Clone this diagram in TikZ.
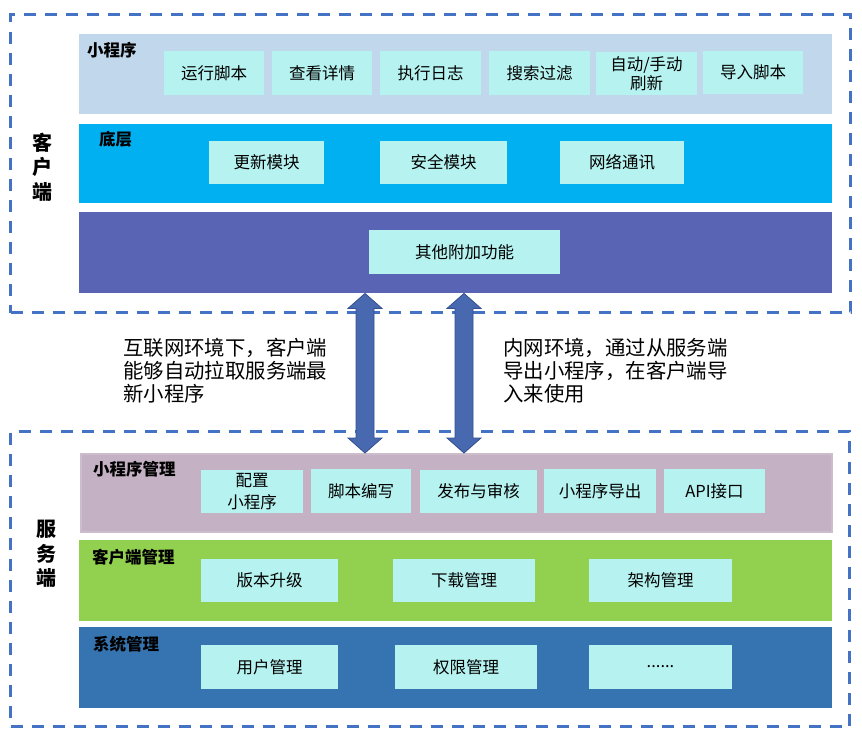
\documentclass[tikz,border=0pt]{standalone}
\usepackage{fontspec}
\setmainfont{Noto Sans CJK SC}
\usetikzlibrary{calc}
\definecolor{dashc}{HTML}{4472C4}
\definecolor{l1c}{HTML}{C0D7EC}
\definecolor{l2c}{HTML}{00B0F0}
\definecolor{l3c}{HTML}{5A64B4}
\definecolor{lac}{HTML}{C4B2C4}
\definecolor{lad}{HTML}{CCBDCC}
\definecolor{lbc}{HTML}{92D050}
\definecolor{lcc}{HTML}{3574B0}
\definecolor{itemc}{HTML}{B6F3F0}
\definecolor{arrc}{HTML}{4868B0}
\definecolor{arrd}{HTML}{34508E}
\begin{document}
\begin{tikzpicture}[x=1pt,y=-1pt,
 layer/.style={inner sep=0, minimum width=753pt, anchor=north west},
 item/.style={fill=itemc, inner sep=0, align=center, font=\fontsize{16.5}{19}\selectfont},
 lbl/.style={anchor=west, inner sep=0, font=\bfseries\fontsize{16.5}{19}\selectfont},
 side/.style={inner sep=0, align=center, font=\bfseries\fontsize{20}{24.5}\selectfont},
 note/.style={anchor=west, inner sep=0, align=left, font=\fontsize{20.4}{23}\selectfont},
 group/.style={draw=dashc, line width=3pt, dash pattern=on 12pt off 9pt, inner sep=0, anchor=north west},
 blockarrow/.style={fill=arrc, draw=arrd, line width=0.8pt, line join=miter}]
\useasboundingbox (0,0) rectangle (862,736);

% dashed groups
\node[group, minimum width=840pt, minimum height=298pt] (client) at (9,13) {};
\node[group, minimum width=839pt, minimum height=295pt] (server) at (9,430) {};

% client layers
\node[layer, fill=l1c, minimum height=80pt] (L1) at (79,34) {};
\node[layer, fill=l2c, minimum height=79pt] (L2) at (79,124) {};
\node[layer, fill=l3c, minimum height=81pt] (L3) at (79,212) {};

\node[lbl] (L1t) at (87,50.5) {小程序};
\node[lbl] (L2t) at (99,139.5) {底层};

\node[item, minimum width=100pt, minimum height=44pt] (c1) at (214,73) {运行脚本};
\node[item, minimum width=100pt, minimum height=44pt] (c2) at (322,73) {查看详情};
\node[item, minimum width=101pt, minimum height=44pt] (c3) at (430.5,73) {执行日志};
\node[item, minimum width=101pt, minimum height=44pt] (c4) at (539.5,73) {搜索过滤};
\node[item, minimum width=101pt, minimum height=43pt] (c5) at (646.5,73.5) {自动/手动\\刷新};
\node[item, minimum width=100pt, minimum height=43pt] (c6) at (753,72.5) {导入脚本};

\node[item, minimum width=115pt, minimum height=43pt] (d1) at (266.5,162.5) {更新模块};
\node[item, minimum width=127pt, minimum height=43pt] (d2) at (443.5,162.5) {安全模块};
\node[item, minimum width=124pt, minimum height=43pt] (d3) at (622,162.5) {网络通讯};

\node[item, minimum width=191pt, minimum height=44pt] (e1) at (464.5,252) {其他附加功能};

\node[side] (clientlbl) at (42,167) {客\\户\\端};

% server layers
\node[layer, fill=lac, draw=lad, line width=1.5pt, minimum width=751pt, minimum height=78pt] (LA) at (80,453) {};
\node[layer, fill=lbc, minimum height=81pt] (LB) at (79,540) {};
\node[layer, fill=lcc, minimum height=81pt] (LC) at (79,627) {};

\node[lbl] (LAt) at (93,469) {小程序管理};
\node[lbl] (LBt) at (92,557) {客户端管理};
\node[lbl] (LCt) at (93,644) {系统管理};

\node[item, minimum width=102pt, minimum height=43pt, font=\fontsize{16.5}{22}\selectfont] (s1) at (252,491.5) {配置\\小程序};
\node[item, minimum width=100pt, minimum height=44pt] (s2) at (361,491) {脚本编写};
\node[item, minimum width=117pt, minimum height=43pt] (s3) at (478.5,491.5) {发布与审核};
\node[item, minimum width=112pt, minimum height=44pt] (s4) at (600,491) {小程序导出};
\node[item, minimum width=101pt, minimum height=44pt] (s5) at (714.5,491) {API接口};

\node[item, minimum width=137pt, minimum height=43pt] (t1) at (269.5,580.5) {版本升级};
\node[item, minimum width=142pt, minimum height=43pt] (t2) at (464,580.5) {下载管理};
\node[item, minimum width=143pt, minimum height=43pt] (t3) at (660.5,580.5) {架构管理};

\node[item, minimum width=137pt, minimum height=44pt] (u1) at (269.5,667) {用户管理};
\node[item, minimum width=142pt, minimum height=44pt] (u2) at (466,667) {权限管理};
\node[item, minimum width=143pt, minimum height=44pt] (u3) at (660.5,667) {......};

\node[side] (serverlbl) at (46,554) {服\\务\\端};

% notes
\node[note] (n1) at (123,371) {互联网环境下，客户端\\能够自动拉取服务端最\\新小程序};
\node[note] (n2) at (503,371) {内网环境，通过从服务端\\导出小程序，在客户端导\\入来使用};

% double block arrows
\coordinate (a1t) at (L3.south -| 365,0);
\coordinate (a1b) at (LA.north -| 365,0);
\coordinate (a2t) at (L3.south -| 464,0);
\coordinate (a2b) at (LA.north -| 464,0);
\foreach \t/\b in {a1t/a1b, a2t/a2b}{
  \draw[blockarrow] (\t) -- ++(17,15) -- ++(-8,0) -- ($(\b)+(9,-15)$) -- ++(8,0)
    -- (\b) -- ++(-17,-15) -- ++(8,0) -- ($(\t)+(-9,15)$) -- ++(-8,0) -- cycle;
}
\end{tikzpicture}
\end{document}
